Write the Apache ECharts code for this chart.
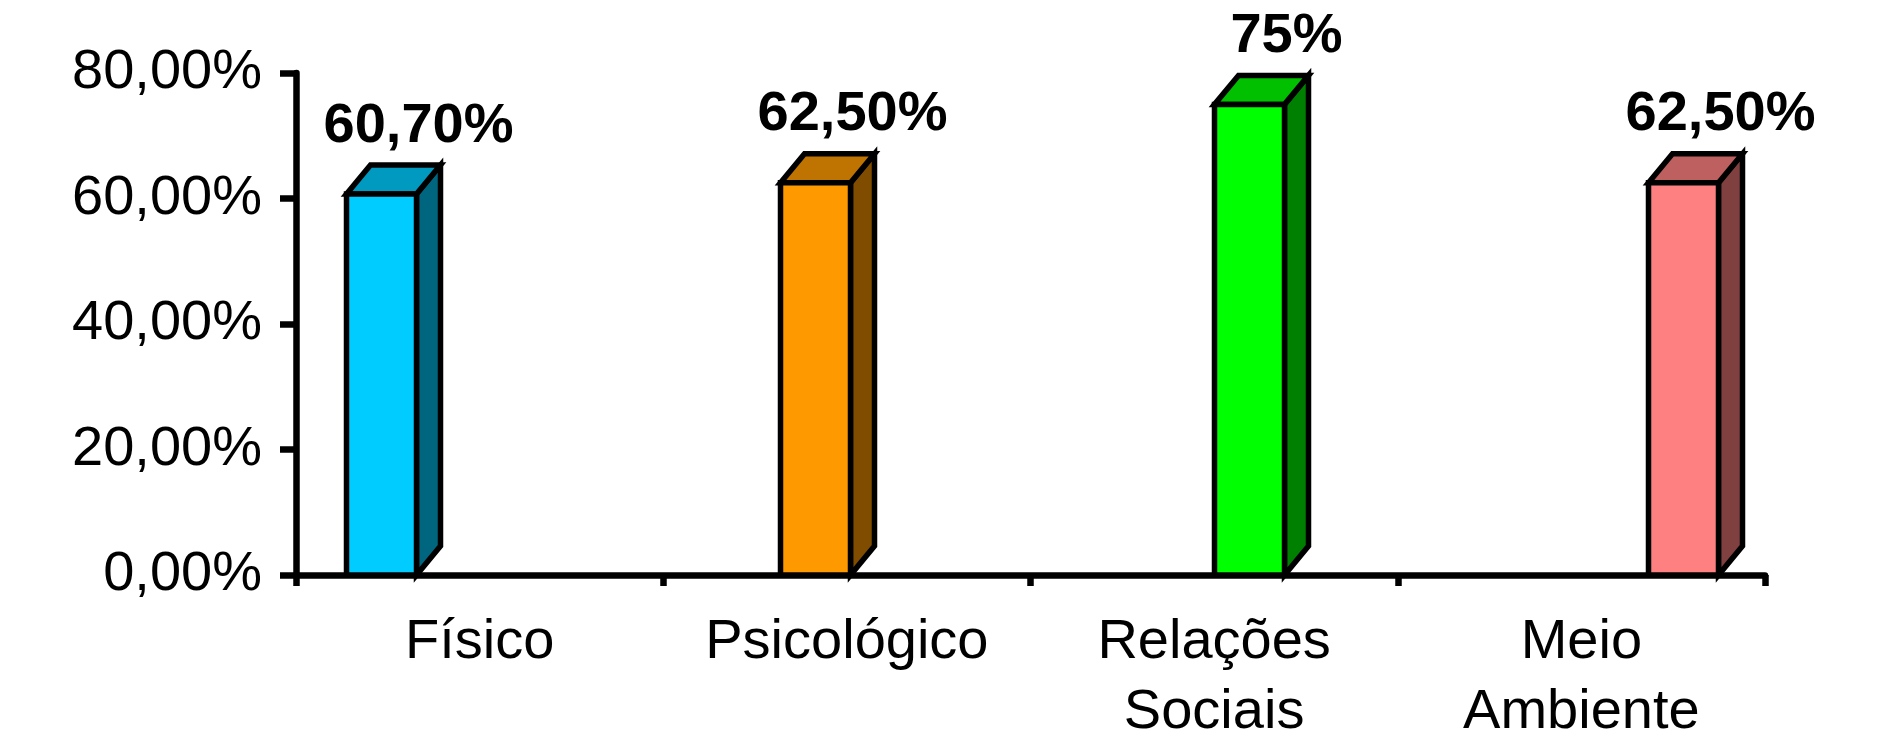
<!DOCTYPE html>
<html>
<head>
<meta charset="utf-8">
<script src="https://cdn.jsdelivr.net/npm/echarts@6/dist/echarts.min.js"></script>
<style>html,body{margin:0;padding:0;background:#fff;}#c{width:1885px;height:733px;}</style>
</head>
<body>
<div id="c"></div>
<script>
var categories = ['Físico', 'Psicológico', 'Relações\nSociais', 'Meio\nAmbiente'];
var values = [60.7, 62.5, 75, 62.5];
var valueLabels = ['60,70%', '62,50%', '75%', '62,50%'];
var yTicks = [0, 20, 40, 60, 80];

var frontColors = ['#00CCFF', '#FF9900', '#00FF00', '#FF8080'];
var topColors = ['#0099C0', '#BF7300', '#00C000', '#BF6060'];
var sideColors = ['#006680', '#804C00', '#008000', '#804040'];

var FONT = '"Liberation Sans", Arial, sans-serif';
var chart = echarts.init(document.getElementById('c'));

function render3D(params, api) {
  var i = api.value(0);
  var v = api.value(1);
  var pTop = api.coord([i, v]);
  var pBot = api.coord([i, 0]);
  var w = 70, dx = 24, dy = 29;
  var x0 = pTop[0] - w / 2, x1 = pTop[0] + w / 2;
  var yt = pTop[1], yb = pBot[1];
  var st = { stroke: '#000', lineWidth: 5.5, lineJoin: 'miter' };
  return {
    type: 'group',
    children: [
      { type: 'polygon', shape: { points: [[x1, yt], [x1 + dx, yt - dy], [x1 + dx, yb - dy], [x1, yb]] },
        style: Object.assign({ fill: sideColors[i] }, st) },
      { type: 'polygon', shape: { points: [[x0, yt], [x0 + dx, yt - dy], [x1 + dx, yt - dy], [x1, yt]] },
        style: Object.assign({ fill: topColors[i] }, st) },
      { type: 'rect', shape: { x: x0, y: yt, width: w, height: yb - yt },
        style: Object.assign({ fill: frontColors[i] }, st) },
      { type: 'text', x: pTop[0] + 37, y: yt - dy - 11,
        style: { text: valueLabels[i], fill: '#000', font: 'bold 56px ' + FONT, textAlign: 'center', textVerticalAlign: 'bottom' } }
    ]
  };
}

var option = {
  backgroundColor: '#fff',
  animation: false,
  grid: [
    { left: 296, right: 120, top: 73, bottom: 158, outerBoundsMode: 'none', containLabel: false },
    { left: 381.5, right: 201.5, top: 73, bottom: 158, outerBoundsMode: 'none', containLabel: false }
  ],
  xAxis: [
    {
      type: 'category', gridIndex: 0, data: categories, boundaryGap: true,
      axisLine: { lineStyle: { color: '#000', width: 6.5 } },
      axisTick: { show: true, length: 11, lineStyle: { color: '#000', width: 6.5 } },
      axisLabel: { color: '#000', fontSize: 56, fontFamily: FONT, margin: 33, lineHeight: 70, interval: 0 }
    },
    {
      type: 'category', gridIndex: 1, data: categories, boundaryGap: false, show: false
    }
  ],
  yAxis: [
    {
      type: 'value', gridIndex: 0, min: 0, max: 80, interval: 20,
      axisLine: { show: true, lineStyle: { color: '#000', width: 6.5 } },
      axisTick: { show: true, length: 16, lineStyle: { color: '#000', width: 6.5 } },
      splitLine: { show: false },
      axisLabel: {
        color: '#000', fontSize: 56, fontFamily: FONT, margin: 34,
        formatter: function (v) { return yTicks.indexOf(v) >= 0 ? v.toFixed(2).replace('.', ',') + '%' : ''; }
      }
    },
    { type: 'value', gridIndex: 1, min: 0, max: 80, show: false }
  ],
  series: [
    {
      type: 'custom', xAxisIndex: 1, yAxisIndex: 1,
      renderItem: render3D,
      data: values.map(function (v, i) { return [i, v]; }),
      z: 5
    }
  ]
};
chart.setOption(option);
</script>
</body>
</html>
